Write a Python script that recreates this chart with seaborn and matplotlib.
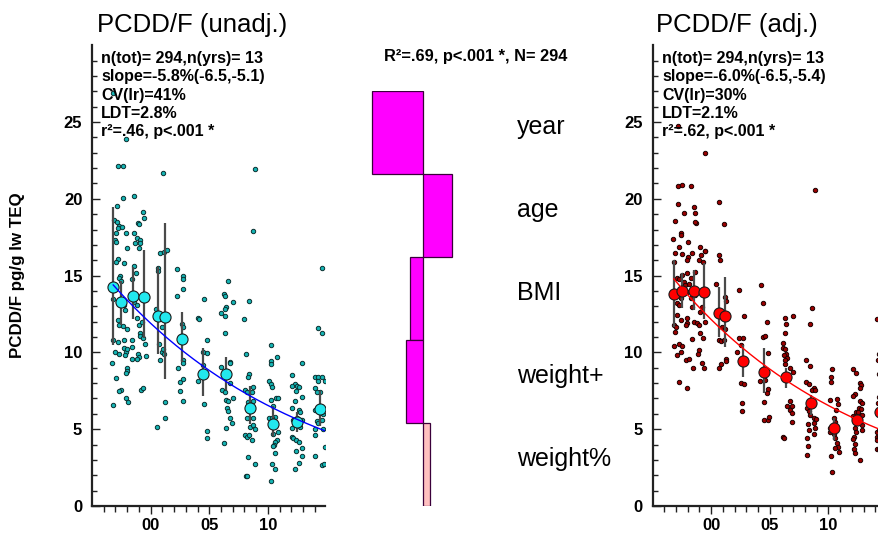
import matplotlib
matplotlib.use("Agg")
import matplotlib.pyplot as plt
from matplotlib.ticker import FixedLocator, FixedFormatter
import numpy as np
import pandas as pd
import seaborn as sns

# ---------------- data ----------------
# individual samples, unadjusted concentrations (pg/g lw TEQ)
unadj_year = [
    1996.8, 1997.9, 1997.18, 1997.67, 2001.08,
    1997.67, 1998.58, 1997.10, 1996.87, 1997.10, 1997.33, 1997.25, 1997.02, 1997.53, 1997.9,
    1999.37, 1999.46, 1998.88, 1999.0, 1998.6, 1998.86, 1999.09, 1999.12, 1998.66, 1999.0,
    1996.96, 1997.02, 1998.01, 1997.18, 1997.02, 1997.76, 1997.39, 1997.30, 1997.47,
    1998.55, 1998.72, 1998.44,
    2000.82, 2001.14, 2001.36, 2000.59, 2000.65,
    2002.21, 2002.78, 2002.78, 2002.78, 2002.21,
    1996.82, 1997.18, 1997.76, 1997.81, 1998.6, 1998.83,
    2000.42, 2000.65, 2000.93, 2001.22,
    1997.18, 1997.30, 1997.67, 1998.01, 1998.80, 1998.97, 1999.23,
    1996.82, 1997.18, 1997.76, 1998.38, 1999.09, 1999.12, 1999.37, 1999.51,
    1996.96, 1997.30, 1997.76, 1997.9, 1998.01, 1997.81, 1998.38, 1998.44, 1998.94, 1999.0, 1999.57, 1998.86,
    2000.70, 2000.93, 2001.08, 2000.79, 2001.14,
    2002.70, 2002.78, 2002.35, 2002.78, 2002.78,
    1996.73, 1997.02, 1997.96, 1998.01, 1997.87, 1997.44, 1997.30, 1997.87, 1998.1, 1999.15, 1999.32, 1996.82,
    2002.50, 2002.73, 2002.50, 2002.78,
    2001.22, 2001.22, 2000.53,
    2004.06, 2004.15, 2004.54, 2004.77, 2004.43, 2004.83, 2004.06, 2004.57, 2004.77, 2004.77, 2004.43,
    2006.62, 2006.25, 2006.33, 2007.0, 2006.39, 2006.33, 2006.0, 2006.33, 2006.33, 2006.76, 2006.0, 2006.42,
    2006.08, 2006.33, 2006.8, 2006.42, 2006.62, 2007.0, 2006.48, 2006.62, 2006.76, 2006.9, 2006.42, 2006.25, 2006.76,
    2008.89, 2008.7, 2008.4, 2007.95, 2008.1, 2008.4, 2008.32, 2008.04, 2008.18, 2008.7, 2008.61, 2008.32, 2008.7,
    2008.24, 2008.7, 2008.47, 2008.75, 2008.89, 2008.04, 2008.24, 2008.4, 2008.61, 2008.32, 2008.89, 2008.1, 2008.24,
    2010.25, 2010.25, 2010.25, 2010.81, 2010.1, 2010.25, 2010.36, 2010.25, 2010.66, 2010.88, 2010.45, 2010.6,
    2010.1, 2010.36, 2010.4, 2010.74, 2010.6, 2010.53, 2010.45, 2010.88, 2010.62, 2010.31, 2010.62, 2010.22,
    2012.02, 2012.3, 2012.5, 2012.65, 2012.02, 2012.37, 2012.87, 2012.3, 2012.87, 2012.02, 2012.65, 2012.77, 2012.16,
    2012.5, 2012.87, 2012.02, 2012.77, 2012.02, 2012.16, 2012.37, 2012.65, 2012.87, 2012.37, 2012.87, 2012.65, 2012.3,
    2014.58, 2014.29, 2014.58, 2014.0, 2014.29, 2014.58, 2014.86, 2014.29, 2014.0, 2014.43, 2014.15, 2014.0,
    2014.72, 2014.58, 2014.15, 2014.29, 2014.72, 2014.0, 2014.0, 2014.86, 2014.0, 2014.58, 2014.78,
]
unadj_value = [
    26.9, 23.9, 22.13, 22.13, 21.7,
    20.07, 20.18, 19.55, 18.6, 18.5, 18.25, 18.07, 17.8, 18.18, 17.8,
    19.16, 18.77, 18.4, 18.33, 17.75, 17.42, 17.31, 17.1, 17.1, 16.77,
    17.31, 17.16, 16.77, 16.08, 15.9, 15.8, 15.0, 14.82, 14.64,
    15.64, 15.14, 14.77,
    16.45, 16.55, 16.66, 15.47, 15.3,
    15.42, 14.99, 14.77, 14.1, 13.67,
    13.45, 13.3, 13.08, 12.76, 13.25, 13.08,
    12.8, 12.5, 11.63, 12.32,
    12.1, 11.78, 11.71, 11.52, 12.21, 11.78, 12.0,
    10.8, 10.7, 10.8, 10.8, 11.24, 11.09, 10.91, 10.55,
    10.04, 9.87, 10.3, 10.0, 10.22, 9.83, 10.37, 9.54, 9.87, 9.67, 9.74, 9.54,
    10.52, 10.04, 10.22, 9.5, 9.87,
    11.82, 11.67, 8.96, 9.5, 9.28,
    9.28, 8.35, 9.0, 8.81, 8.63, 7.55, 7.5, 7.0, 6.79, 7.55, 7.66, 6.6,
    8.09, 8.24, 7.48, 6.83,
    6.79, 5.75, 5.14,
    12.26, 12.17, 13.45, 10.8, 10.04, 9.93, 8.13, 6.67, 4.88, 4.44, 9.18,
    14.64, 13.78, 13.69, 13.25, 12.97, 12.82, 12.58, 12.39, 11.28, 9.39, 9.07, 8.57,
    7.55, 7.44, 7.98, 6.9, 6.83, 7.05, 6.35, 6.18, 5.7, 5.42, 5.1, 4.12, 9.33,
    21.94, 17.9, 13.34, 12.15, 9.87, 8.57, 8.42, 7.55, 7.44, 7.76, 7.44, 6.79, 6.83,
    5.7, 5.7, 5.16, 5.27, 5.0, 4.62, 4.51, 4.62, 4.29, 3.16, 2.73, 1.97, 1.97,
    10.48, 9.44, 9.22, 9.72, 8.13, 7.92, 7.76, 6.9, 7.0, 7.05, 6.5, 5.81,
    5.7, 5.7, 4.66, 4.29, 4.14, 3.97, 3.9, 4.83, 3.42, 2.73, 2.4, 1.62,
    8.52, 7.92, 7.81, 7.76, 7.83, 7.48, 9.28, 6.85, 7.11, 6.35, 6.25, 6.14, 5.6,
    5.7, 5.6, 5.05, 5.16, 4.51, 4.4, 4.29, 4.18, 3.75, 3.58, 3.25, 2.82, 2.4,
    15.51, 11.6, 11.28, 8.42, 8.42, 8.37, 8.16, 8.13, 7.66, 7.44, 7.4, 6.25,
    5.98, 5.6, 5.53, 5.38, 4.99, 5.0, 4.62, 3.86, 3.25, 2.67, 2.73,
]

# individual samples, adjusted concentrations
adj_year = [
    1997.18, 1999.51, 1997.18, 1997.53, 1998.3, 1997.18, 2000.65, 1998.52, 1998.6, 1997.67, 1996.96,
    1998.72, 1998.6, 2001.08, 1997.39, 1997.47, 1996.73, 1998.01, 1997.25, 1996.93, 1997.53, 1998.01,
    1997.96, 1999.09, 1999.46, 1999.51, 1998.38, 1999.17, 2000.65, 2000.73, 1996.82, 1999.32, 1998.94,
    1997.96, 1998.66, 1997.53, 1997.67, 1997.1, 1997.3, 1998.24, 1998.1, 2000.45, 2002.35, 2004.23,
    2004.4, 1996.96, 1997.76, 1997.96, 1997.1, 1997.25, 1997.39, 1998.24, 1998.38, 1998.66, 1999.23,
    1999.09, 2001.22, 2001.28, 1997.1, 1997.39, 1996.82, 1997.02, 1996.96, 1997.96, 1997.9, 1997.87,
    1998.52, 1998.8, 1998.94, 1999.51, 2002.83, 2004.77, 2000.93, 2001.16, 1998.38, 1999.32, 1999.09,
    2000.65, 2000.85, 2001.08, 2002.35, 2002.70, 2002.58, 2004.46, 1996.82, 1997.3, 1997.53, 1997.1,
    1997.39, 1998.94, 1998.88, 1999.23, 1999.37, 1998.44, 1997.87, 1998.1, 2000.65, 2000.85, 2001.28,
    2001.28, 2002.21, 2004.86, 2002.58, 2002.78, 2002.64, 2002.64, 2004.14, 1997.3, 1997.9, 2004.86,
    2004.77, 2004.54, 2004.54, 2004.86, 2004.92, 2004.63, 2004.63,
    2008.84, 2008.61, 2006.27, 2006.39, 2006.27, 2006.99, 2008.4, 2014.1, 2006.1, 2006.13, 2006.27,
    2006.39, 2006.19, 2006.48, 2006.33, 2006.27, 2006.76, 2006.96, 2014.29, 2014.23, 2014.29, 2008.1,
    2008.4, 2008.1, 2008.32, 2008.75, 2008.61, 2008.84, 2006.76, 2006.48, 2006.85, 2006.76, 2006.85,
    2006.85, 2008.18, 2008.37, 2008.4, 2008.75, 2008.94, 2008.75, 2008.84, 2008.75, 2008.27, 2008.32,
    2006.13, 2006.24, 2008.18, 2008.24, 2008.18,
    2010.31, 2010.22, 2010.22, 2010.17, 2010.69, 2010.8, 2010.66, 2010.46, 2010.6, 2010.17, 2010.1,
    2010.46, 2010.6, 2010.69, 2010.8, 2010.94, 2010.6, 2010.22, 2010.31,
    2012.1, 2012.31, 2012.73, 2012.8, 2012.73, 2012.23, 2012.1, 2012.73, 2012.87, 2012.59, 2012.8,
    2012.31, 2012.52, 2012.87, 2012.1, 2012.31, 2012.23, 2012.37, 2012.84, 2012.87, 2012.16, 2012.07,
    2012.23, 2012.16, 2012.23, 2012.73,
    2014.1, 2014.15, 2014.1, 2014.1, 2014.4, 2014.4, 2014.4, 2014.3, 2014.25, 2014.35, 2014.3, 2014.3,
]
adj_value = [
    24.73, 22.95, 20.83, 20.9, 20.83, 19.64, 19.81, 19.48, 19.09, 19.09, 18.57,
    18.4, 18.5, 18.33, 17.75, 17.64, 17.38, 17.2, 16.88, 16.49, 16.38, 16.23,
    16.0, 16.88, 16.6, 16.6, 16.49, 16.34, 16.34, 16.0, 15.9, 15.9, 16.0,
    15.14, 15.25, 15.03, 14.6, 14.82, 14.77, 14.82, 14.43, 14.43, 14.06, 14.38,
    13.23, 13.95, 14.38, 13.95, 13.19, 13.08, 13.52, 13.52, 12.97, 13.73, 12.97,
    12.65, 13.62, 13.36, 12.43, 12.1, 11.78, 11.67, 11.35, 12.21, 11.89, 11.78,
    12.0, 11.89, 11.78, 11.95, 12.39, 11.95, 11.67, 11.52, 10.85, 10.96, 11.24,
    10.8, 10.74, 10.8, 10.96, 10.91, 10.48, 11.02, 10.43, 10.54, 10.41, 9.83,
    10.04, 10.15, 9.87, 9.28, 8.96, 8.96, 9.5, 9.54, 8.96, 9.22, 9.6,
    9.44, 10.04, 9.98, 7.98, 7.92, 6.72, 6.18, 8.16, 8.09, 7.66, 7.61,
    7.33, 6.79, 5.6, 5.6, 5.81, 11.06, 8.2,
    20.57, 12.91, 12.21, 11.84, 11.28, 12.39, 11.84, 12.15, 10.59, 10.3, 10.2,
    9.89, 9.83, 9.61, 9.5, 9.22, 9.0, 8.74, 9.87, 9.5, 8.57, 9.5,
    9.11, 8.09, 7.92, 7.7, 7.55, 7.55, 6.83, 6.5, 6.5, 6.24, 6.03,
    5.49, 6.4, 6.18, 5.92, 5.75, 5.66, 5.38, 5.1, 4.66, 5.31, 4.94,
    4.51, 4.44, 4.44, 3.92, 3.32,
    8.91, 8.42, 8.09, 6.9, 6.96, 6.61, 6.25, 5.75, 5.49, 5.05, 4.79,
    4.66, 4.4, 4.08, 3.86, 3.53, 3.79, 3.25, 2.23,
    8.91, 8.63, 8.02, 7.87, 7.66, 7.27, 7.18, 6.83, 6.68, 6.35, 6.29,
    6.09, 6.14, 5.92, 5.88, 5.38, 5.05, 4.83, 4.94, 5.27, 4.51, 4.36,
    4.01, 3.71, 3.42, 2.99,
    4.83, 4.51, 4.29, 3.71, 9.94, 9.51, 8.64, 7.1, 6.68, 4.95, 4.52, 3.7,
]

# yearly means with interval limits
round_year = [1996.8, 1997.5, 1998.5, 1999.4, 2000.65, 2001.2, 2002.7,
              2004.5, 2006.4, 2008.5, 2010.45, 2012.45, 2014.4]
unadj_mean = [14.28, 13.26, 13.67, 13.58, 12.39, 12.29, 10.85, 8.59, 8.59, 6.36, 5.32, 5.45, 6.3]
unadj_low = [10.48, 11.8, 12.2, 10.95, 9.9, 8.3, 9.4, 7.18, 7.55, 5.33, 4.55, 4.84, 5.2]
unadj_high = [19.49, 14.65, 15.55, 16.67, 15.58, 18.4, 12.65, 10.27, 9.72, 7.82, 6.5, 6.14, 7.5]
adj_mean = [13.78, 14.0, 14.02, 13.95, 12.55, 12.39, 9.46, 8.70, 8.38, 6.73, 5.10, 5.6, 6.1]
adj_low = [11.67, 12.87, 12.76, 12.2, 11.02, 10.37, 8.42, 7.34, 7.7, 5.92, 4.3, 5.27, 5.5]
adj_high = [16.02, 15.15, 15.36, 15.8, 14.28, 14.93, 10.48, 10.27, 9.0, 7.23, 5.71, 5.92, 6.7]

# log-linear trend: starting level and yearly change
unadj_trend_start = 14.4
unadj_slope = -0.058
adj_trend_start = 14.8
adj_slope = -0.060

# stats lines
unadj_stats = ["n(tot)= 294,n(yrs)= 13", "slope=-5.8%(-6.5,-5.1)", "CV(lr)=41%",
               "LDT=2.8%", "r\u00b2=.46, p<.001 *"]
adj_stats = ["n(tot)= 294,n(yrs)= 13", "slope=-6.0%(-6.5,-5.4)", "CV(lr)=30%",
             "LDT=2.1%", "r\u00b2=.62, p<.001 *"]

# multiple regression: partial effects of covariates
covariates = ["year", "age", "BMI", "weight+", "weight%"]
effects = [-0.64, 0.36, -0.16, -0.21, 0.09]
effect_colors = ["#ff00ff", "#ff00ff", "#ff00ff", "#ff00ff", "#ffc0c0"]
model_text = "R\u00b2=.69, p<.001 *, N= 294"

# ---------------- figure ----------------
sns.set_theme(style="white")
plt.rcParams["font.family"] = ["Liberation Sans", "DejaVu Sans"]
plt.rcParams["text.color"] = "black"
plt.rcParams["xtick.color"] = "black"
plt.rcParams["ytick.color"] = "black"
plt.rcParams["axes.labelcolor"] = "black"

W, H = 879, 533
fig = plt.figure(figsize=(W / 100, H / 100), dpi=100)

XMIN, XMAX = 1995.0, 2014.9
px_per_year = 11.73
ax_w = (XMAX - XMIN) * px_per_year
ax_h = 30 * 15.36

ax_l = fig.add_axes([92 / W, 27 / H, ax_w / W, ax_h / H])
ax_r = fig.add_axes([652.5 / W, 27 / H, ax_w / W, ax_h / H])
ax_m = fig.add_axes([343 / W, 27 / H, 280 / W, 415 / H])


def trend_panel(ax, years, values, mean, low, high, start, slope,
                pt_face, pt_edge, mean_face, line_color):
    sns.scatterplot(x=years, y=values, ax=ax, s=10, color=pt_face,
                    edgecolor=pt_edge, linewidth=0.7, zorder=2)
    ax.vlines(round_year, low, high, color="#4a4a4a", lw=1.6, zorder=3)
    sns.scatterplot(x=round_year, y=mean, ax=ax, s=64, color=mean_face,
                    edgecolor="#1a1a1a", linewidth=0.8, zorder=4)
    t = np.linspace(round_year[0], XMAX, 200)
    fit = start * (1 + slope) ** (t - round_year[0])
    sns.lineplot(x=t, y=fit, ax=ax, color=line_color, lw=1.0, zorder=5)

    ax.set_xlim(XMIN, XMAX)
    ax.set_ylim(0, 30)
    ax.set_xlabel("")
    ax.set_ylabel("")
    for s in ("top", "right"):
        ax.spines[s].set_visible(False)
    for s in ("left", "bottom"):
        ax.spines[s].set_color("#222222")
        ax.spines[s].set_linewidth(1.6)

    ax.yaxis.set_major_locator(FixedLocator([0, 5, 10, 15, 20, 25]))
    ax.yaxis.set_major_formatter(FixedFormatter(["0", "5", "10", "15", "20", "25"]))
    ax.yaxis.set_minor_locator(FixedLocator([v for v in range(1, 30) if v % 5]))
    majors = [2000, 2005, 2010]
    ax.xaxis.set_major_locator(FixedLocator(majors))
    ax.xaxis.set_major_formatter(FixedFormatter([f"{y % 100:02d}" for y in majors]))
    ax.xaxis.set_minor_locator(FixedLocator([y for y in range(1996, 2015) if y not in majors]))

    ax.tick_params(axis="y", which="both", direction="in", left=True, color="#222222",
                   width=1.0, pad=7)
    ax.tick_params(axis="y", which="major", length=6)
    ax.tick_params(axis="y", which="minor", length=3.5)
    ax.tick_params(axis="x", which="both", direction="out", bottom=True, color="#222222",
                   width=1.0, pad=3)
    ax.tick_params(axis="x", which="major", length=6)
    ax.tick_params(axis="x", which="minor", length=4)
    for lab in ax.get_xticklabels() + ax.get_yticklabels():
        lab.set_fontsize(12)
        lab.set_fontweight("bold")
        lab.set_color("black")
    ax.patch.set_alpha(0)


trend_panel(ax_l, unadj_year, unadj_value, unadj_mean, unadj_low, unadj_high,
            unadj_trend_start, unadj_slope, "#14b4b4", "#0a3030", "#22e8ee", "#0000ff")
trend_panel(ax_r, adj_year, adj_value, adj_mean, adj_low, adj_high,
            adj_trend_start, adj_slope, "#9a0000", "#1a0000", "#ff0000", "#ff0000")

# covariate effects
sns.barplot(x=effects, y=covariates, hue=covariates, palette=effect_colors, ax=ax_m,
            orient="h", width=1.0, legend=False, edgecolor="#3a003a", linewidth=0.9,
            saturation=1)
ax_m.set_xlim(-1.0, 2.5)
ax_m.set_ylim(4.5, -0.5)
ax_m.axis("off")
for i, name in enumerate(covariates):
    ax_m.text(1.175, i + 0.02, name, fontsize=18, va="baseline", ha="left", color="black")

# texts
def px_text(x, y, s, **kw):
    fig.text(x / W, 1 - y / H, s, color="black", **kw)

px_text(97, 32, "PCDD/F (unadj.)", fontsize=18.5, va="baseline", ha="left")
px_text(656, 32, "PCDD/F (adj.)", fontsize=18.5, va="baseline", ha="left")
for k, line in enumerate(unadj_stats):
    px_text(101, 63 + 18.3 * k, line, fontsize=11.5, fontweight="bold", va="baseline")
for k, line in enumerate(adj_stats):
    px_text(662, 63 + 18.3 * k, line, fontsize=11.5, fontweight="bold", va="baseline")
px_text(476, 61, model_text, fontsize=11.8, fontweight="bold", va="baseline", ha="center")
px_text(18, 275, "PCDD/F pg/g lw TEQ", fontsize=12.2, fontweight="bold",
        rotation=90, va="center", ha="center")

fig.savefig("out.png", dpi=100)
